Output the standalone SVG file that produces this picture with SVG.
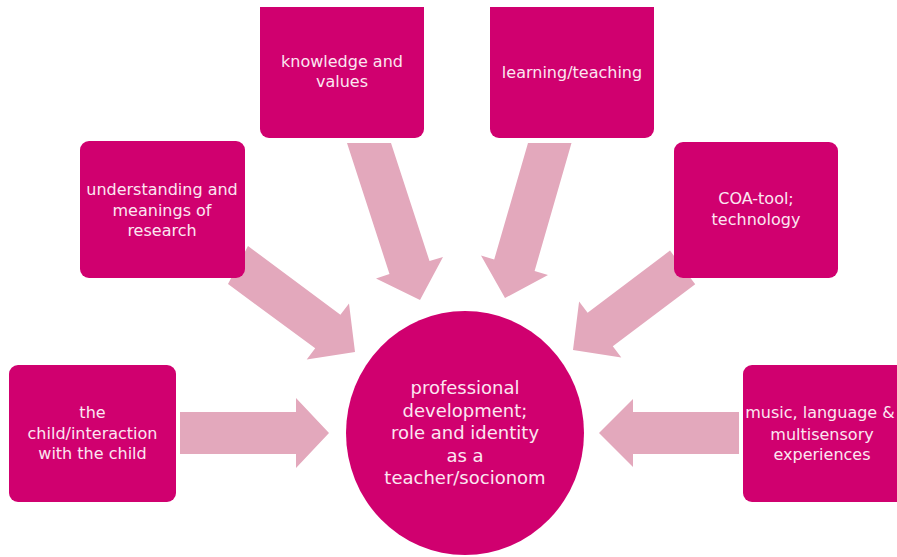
<svg xmlns="http://www.w3.org/2000/svg" width="897" height="557" viewBox="0 0 897 557">
  <style>
    .box { fill: #d0006f; }
    .arrow { fill: #e3a8bc; }
    .t { font-family: "DejaVu Sans", "Liberation Sans", sans-serif; font-size: 16px; fill: #fce6f1; text-anchor: middle; }
    .tc { font-family: "DejaVu Sans", "Liberation Sans", sans-serif; font-size: 18px; fill: #fce6f1; text-anchor: middle; }
  </style>
  <rect width="897" height="557" fill="#ffffff"/>
  <g id="connectors">
    <path class="arrow" d="M180,412 H296 V398 L329,433 L296,468 V454 H180 Z"/>
    <path class="arrow" d="M739,412 H633 V399 L599,433 L633,467 V454 H739 Z"/>
    <path class="arrow" d="M248,246 L340.4,314.7 L349,303.5 L355,352 L306.7,359.5 L315.2,348.3 L228,284 Z"/>
    <path class="arrow" d="M347,143 L391,143 L429.5,261 L443,257 L420,300 L376,278.5 L389.5,274 Z"/>
    <path class="arrow" d="M528,143 L571.5,143 L534.6,271 L548,275 L505,298 L481,255.6 L494.2,259.5 Z"/>
    <path class="arrow" d="M670,250.6 L695.2,284.2 L612.8,346.3 L621.3,357.5 L573,350 L579.1,301.5 L587.6,312.7 Z"/>
  </g>
  <g id="node-knowledge">
    <path class="box" d="M260,7 H424 V129 A9,9 0 0 1 415,138 H269 A9,9 0 0 1 260,129 Z"/>
    <text class="t" x="342" y="67">knowledge and</text>
    <text class="t" x="342" y="87">values</text>
  </g>
  <g id="node-learning">
    <path class="box" d="M490,7 H654 V129 A9,9 0 0 1 645,138 H499 A9,9 0 0 1 490,129 Z"/>
    <text class="t" x="572" y="78">learning/teaching</text>
  </g>
  <g id="node-understanding">
    <rect class="box" x="80" y="141" width="165" height="137" rx="9"/>
    <text class="t" x="162" y="195">understanding and</text>
    <text class="t" x="162" y="215.5">meanings of</text>
    <text class="t" x="162" y="236">research</text>
  </g>
  <g id="node-coa">
    <rect class="box" x="674" y="142" width="164" height="136" rx="9"/>
    <text class="t" x="756" y="204">COA-tool;</text>
    <text class="t" x="756" y="225">technology</text>
  </g>
  <g id="node-child">
    <rect class="box" x="9" y="365" width="167" height="137" rx="9"/>
    <text class="t" x="92.5" y="418">the</text>
    <text class="t" x="92.5" y="439">child/interaction</text>
    <text class="t" x="92.5" y="459">with the child</text>
  </g>
  <g id="node-music">
    <rect class="box" x="743" y="365" width="170" height="137" rx="9"/>
    <text class="t" x="820" y="418">music, language &amp;</text>
    <text class="t" x="822" y="440">multisensory</text>
    <text class="t" x="822" y="460">experiences</text>
  </g>
  <g id="node-center">
    <ellipse class="box" cx="465" cy="433" rx="119" ry="122"/>
    <text class="tc" x="465" y="394">professional</text>
    <text class="tc" x="465" y="416.5">development;</text>
    <text class="tc" x="465" y="439">role and identity</text>
    <text class="tc" x="465" y="461.5">as a</text>
    <text class="tc" x="465" y="484">teacher/socionom</text>
  </g>
</svg>
